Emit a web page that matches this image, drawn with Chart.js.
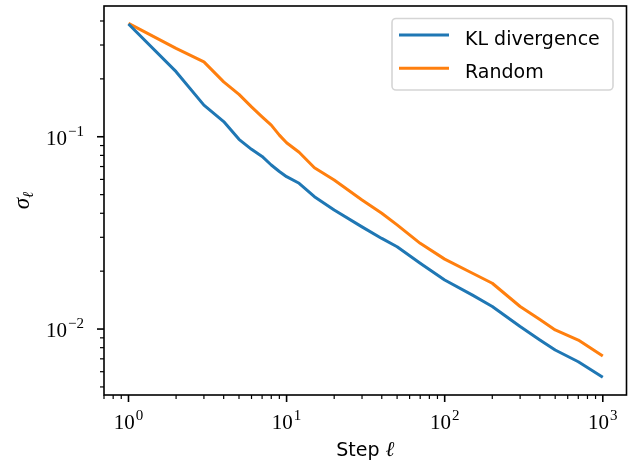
<!DOCTYPE html>
<html>
<head>
<meta charset="utf-8">
<script src="https://cdn.jsdelivr.net/npm/chart.js@4"></script>
<style>
  body { margin: 0; background: #fff; }
  canvas { display: block; }
</style>
</head>
<body>
<canvas id="myChart" width="636" height="462"></canvas>
<script>
// sigma per step, KL divergence vs random ordering (log-log)

const steps = [1, 2, 3, 4, 5, 6, 7, 8, 9, 10, 12, 15, 20, 30, 40, 50, 70, 100, 150, 200, 300, 400, 500, 700, 1000];
const klValues = [0.386, 0.218, 0.146, 0.12, 0.097, 0.086, 0.079, 0.0713, 0.066, 0.062, 0.0573, 0.0488, 0.0416, 0.034, 0.0296, 0.0268, 0.022, 0.018, 0.015, 0.0131, 0.0103, 0.00877, 0.00778, 0.00676, 0.00562];
const randomValues = [0.389, 0.288, 0.245, 0.193, 0.166, 0.143, 0.127, 0.115, 0.102, 0.093, 0.083, 0.069, 0.0596, 0.0469, 0.04, 0.0348, 0.0279, 0.0231, 0.0195, 0.0173, 0.0131, 0.0112, 0.00989, 0.00877, 0.00724];
const seriesLabels = ["KL divergence", "Random"];
const xDecades = [0, 1, 2, 3];
const yDecades = [-2, -1];

const blue = "#1f77b4";
const orange = "#ff7f0e";
const serif = "'Liberation Serif', 'DejaVu Serif', serif";
const sans = "'DejaVu Sans', sans-serif";

const toPoints = (vals) => steps.map((s, i) => ({ x: s, y: vals[i] }));

// draw "10" with a raised exponent, anchored by align ('center' or 'right')
function drawPow(ctx, exp, x, y, align) {
  const expText = exp < 0 ? "\u2212" + Math.abs(exp) : String(exp);
  ctx.font = "21px " + serif;
  const wBase = ctx.measureText("10").width;
  ctx.font = "15px " + serif;
  const wExp = ctx.measureText(expText).width;
  const total = wBase + wExp + 1;
  let x0 = align === "right" ? x - total : x - total / 2;
  ctx.textAlign = "left";
  ctx.textBaseline = "alphabetic";
  ctx.font = "21px " + serif;
  ctx.fillText("10", x0, y);
  ctx.font = "15px " + serif;
  ctx.fillText(expText, x0 + wBase + 1, y - 9);
}

const axesPlugin = {
  id: "mplAxes",
  afterDraw(chart) {
    const { ctx, chartArea: a, scales } = chart;
    const xs = scales.x, ys = scales.y;
    ctx.save();
    ctx.fillStyle = "#000";
    ctx.strokeStyle = "#000";

    // ticks
    const tickMarks = (scale, horizontal) => {
      for (let d = -4; d <= 4; d++) {
        for (let k = 1; k <= 9; k++) {
          const v = k * Math.pow(10, d);
          if (v < scale.min || v > scale.max) continue;
          const p = scale.getPixelForValue(v);
          const len = k === 1 ? 7 : 4;
          ctx.lineWidth = k === 1 ? 1.6 : 1.2;
          ctx.beginPath();
          if (horizontal) {
            ctx.moveTo(p, a.bottom);
            ctx.lineTo(p, a.bottom + len);
          } else {
            ctx.moveTo(a.left, p);
            ctx.lineTo(a.left - len, p);
          }
          ctx.stroke();
        }
      }
    };
    tickMarks(xs, true);
    tickMarks(ys, false);

    // frame
    ctx.lineWidth = 1.6;
    ctx.strokeRect(a.left, a.top, a.right - a.left, a.bottom - a.top);

    // tick labels
    xDecades.forEach((d) => drawPow(ctx, d, xs.getPixelForValue(Math.pow(10, d)), 429, "center"));
    yDecades.forEach((d) => drawPow(ctx, d, a.left - 20, ys.getPixelForValue(Math.pow(10, d)) + 8, "right"));

    // axis titles
    const xMid = (a.left + a.right) / 2;
    ctx.font = "19px " + sans;
    const wStep = ctx.measureText("Step ").width;
    ctx.font = "italic 21px " + serif;
    const wEll = ctx.measureText("\u2113").width;
    let sx = xMid - (wStep + wEll) / 2;
    ctx.textAlign = "left";
    ctx.font = "19px " + sans;
    ctx.fillText("Step ", sx, 456);
    ctx.font = "italic 21px " + serif;
    ctx.fillText("\u2113", sx + wStep, 456);

    ctx.save();
    ctx.translate(29, (a.top + a.bottom) / 2);
    ctx.rotate(-Math.PI / 2);
    ctx.font = "italic 23px " + serif;
    const wSig = ctx.measureText("\u03c3").width;
    ctx.font = "italic 15px " + serif;
    const wSub = ctx.measureText("\u2113").width;
    const s0 = -(wSig + wSub) / 2;
    ctx.font = "italic 23px " + serif;
    ctx.fillText("\u03c3", s0, 0);
    ctx.font = "italic 15px " + serif;
    ctx.fillText("\u2113", s0 + wSig, 4);
    ctx.restore();

    // legend
    const lx = 392, ly = 18.5, lw = 221, lh = 71.5, r = 4;
    ctx.fillStyle = "rgba(255,255,255,0.8)";
    ctx.strokeStyle = "#d5d5d5";
    ctx.lineWidth = 1.6;
    ctx.beginPath();
    ctx.roundRect(lx, ly, lw, lh, r);
    ctx.fill();
    ctx.stroke();
    chart.data.datasets.forEach((ds, i) => {
      const yy = 35 + i * 33.3;
      ctx.strokeStyle = ds.borderColor;
      ctx.lineWidth = 3;
      ctx.beginPath();
      ctx.moveTo(399, yy);
      ctx.lineTo(449, yy);
      ctx.stroke();
      ctx.fillStyle = "#000";
      ctx.font = "19px " + sans;
      ctx.textAlign = "left";
      ctx.textBaseline = "alphabetic";
      ctx.fillText(ds.label, 465, yy + 9.5);
    });
    ctx.restore();
  },
};

const ctx = document.querySelector("#myChart");

const config = {
  type: "line",
  data: {
    datasets: [
      { label: seriesLabels[0], data: toPoints(klValues), borderColor: blue, backgroundColor: blue },
      { label: seriesLabels[1], data: toPoints(randomValues), borderColor: orange, backgroundColor: orange },
    ],
  },
  options: {
    responsive: false,
    animation: false,
    borderWidth: 3,
    elements: {
      point: { radius: 0 },
      line: { borderWidth: 3, tension: 0, borderCapStyle: "butt", borderJoinStyle: "round" },
    },
    layout: { padding: { top: 6, right: 9.5, left: 0, bottom: 0 } },
    plugins: { legend: { display: false }, tooltip: { enabled: false } },
    scales: {
      x: {
        type: "logarithmic",
        min: Math.pow(10, -0.15),
        max: Math.pow(10, 3.15),
        ticks: { display: false },
        grid: { display: false },
        border: { display: false },
        afterFit: (scale) => { scale.height = 67; },
      },
      y: {
        type: "logarithmic",
        min: Math.pow(10, -2.343),
        max: Math.pow(10, -0.32),
        ticks: { display: false },
        grid: { display: false },
        border: { display: false },
        afterFit: (scale) => { scale.width = 104; },
      },
    },
  },
  plugins: [axesPlugin],
};

const chart = new Chart(ctx, config);
</script>
</body>
</html>
